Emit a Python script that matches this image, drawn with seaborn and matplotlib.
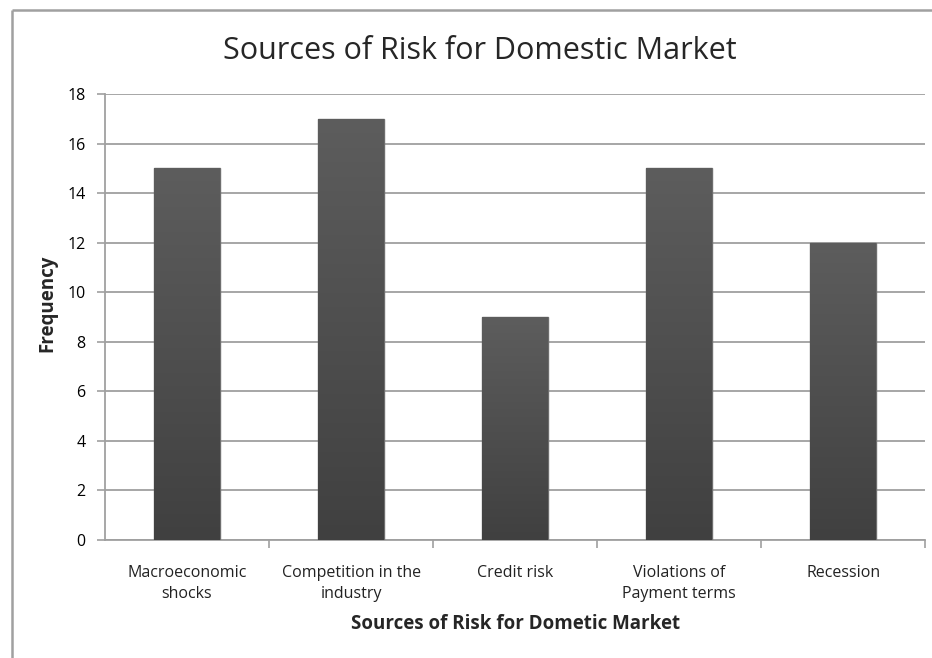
import numpy as np
import pandas as pd
import matplotlib
matplotlib.use("Agg")
import matplotlib.pyplot as plt
import seaborn as sns
from matplotlib.lines import Line2D
from matplotlib.colors import LinearSegmentedColormap

categories = ["Macroeconomic\nshocks", "Competition in the\nindustry", "Credit risk",
              "Violations of\nPayment terms", "Recession"]
frequency = [15, 17, 9, 15, 12]
yticks = [0, 2, 4, 6, 8, 10, 12, 14, 16, 18]

sns.set_theme(style="white")
plt.rcParams["font.family"] = ["Open Sans", "DejaVu Sans"]

fig = plt.figure(figsize=(9.32, 6.58), dpi=100, facecolor="white", edgecolor="white",
                 linewidth=0)
ax = fig.add_axes([0.1127, 0.1793, 0.88, 0.6778])

df = pd.DataFrame({"cat": categories, "freq": frequency})
sns.barplot(data=df, x="cat", y="freq", color="#4f4f4f", width=0.4, ax=ax,
            edgecolor="#6e6e6e", linewidth=1.0, zorder=3)

# vertical gradient inside each bar
grad = np.linspace(0, 1, 256).reshape(-1, 1)
cmap = LinearSegmentedColormap.from_list("g", ["#404040", "#5d5d5d"])
for p in ax.patches:
    x0, y0 = p.get_x(), p.get_y()
    w, h = p.get_width(), p.get_height()
    im = ax.imshow(grad, extent=[x0, x0 + w, y0, y0 + h], origin="lower",
                   cmap=cmap, aspect="auto", zorder=3.5)
    im.set_clip_path(p)

ax.set_xlim(-0.5, 4.5)
ax.set_ylim(0, 18)
ax.set_yticks(yticks)
ax.set_yticklabels([str(t) for t in yticks], fontsize=11.5)
ax.yaxis.grid(True, color="#a6a6a6", linewidth=1.4, zorder=0)
ax.set_axisbelow(True)

for s in ["top", "right"]:
    ax.spines[s].set_visible(False)
for s in ["left", "bottom"]:
    ax.spines[s].set_color("#a0a0a0")
    ax.spines[s].set_linewidth(1.3)

ax.tick_params(axis="y", which="both", left=True, length=6, color="#a0a0a0",
               width=1.2, pad=8, labelcolor="black")
ax.set_xticks(range(len(categories)))
ax.set_xticklabels(categories, fontsize=11.5, linespacing=1.45)
ax.tick_params(axis="x", which="major", bottom=False, pad=12, labelcolor="#222222")
ax.set_xticks([0.5, 1.5, 2.5, 3.5, 4.5], minor=True)
ax.tick_params(axis="x", which="minor", bottom=True, length=6, color="#a0a0a0", width=1.2)

ax.set_xlabel("Sources of Risk for Dometic Market", fontsize=13.5, fontweight="bold",
              labelpad=8)
ax.set_ylabel("Frequency", fontsize=13.5, fontweight="bold")
ax.yaxis.set_label_coords(-0.058, 0.53)
fig.text(0.515, 0.922, "Sources of Risk for Domestic Market", ha="center", va="center",
         fontsize=22)

# outer chart frame (left and top edges visible, running off the image)
fx = 12 / 932
fy = 1 - 10 / 658
fig.add_artist(Line2D([fx, fx], [-0.05, fy], transform=fig.transFigure,
                      color="#a0a0a0", linewidth=1.8, solid_capstyle="butt"))
fig.add_artist(Line2D([fx, 1.05], [fy, fy], transform=fig.transFigure,
                      color="#a0a0a0", linewidth=1.8, solid_capstyle="butt"))

fig.savefig("out.png", dpi=100, facecolor="white")
